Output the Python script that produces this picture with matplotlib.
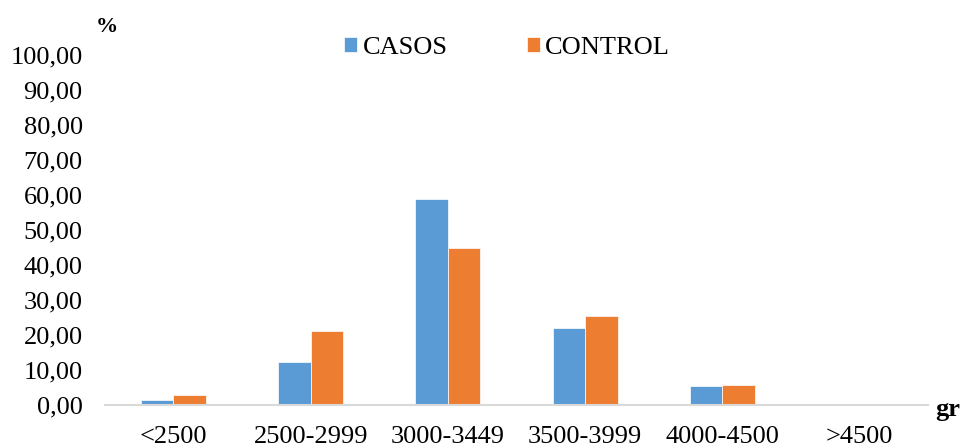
import numpy as np
import matplotlib
matplotlib.use('Agg')
import matplotlib.pyplot as plt

# weight groups and percentage of each group
categorias = ['<2500', '2500-2999', '3000-3449', '3500-3999', '4000-4500', '>4500']
casos = [1.4, 12.4, 58.9, 21.9, 5.4, 0.0]
control = [2.9, 21.2, 45.0, 25.4, 5.7, 0.0]
yticks = [0, 10, 20, 30, 40, 50, 60, 70, 80, 90, 100]

plt.rcParams['font.family'] = ['Liberation Serif', 'DejaVu Serif']

fig = plt.figure(figsize=(9.62, 4.46), dpi=100)
ax = fig.add_axes([0.109, 0.092, 0.856, 0.784])

x = np.arange(len(categorias))
w = 0.237
ax.bar(x - w/2, casos, w, color='#5B9BD5', edgecolor='white', lw=0.5, label='CASOS', zorder=2)
ax.bar(x + w/2, control, w, color='#ED7D31', edgecolor='white', lw=0.5, label='CONTROL', zorder=2)

ax.set_xlim(-0.5, len(categorias) - 0.5)
ax.set_ylim(0, 100)
ax.set_yticks(yticks)
ax.yaxis.set_major_formatter(plt.FuncFormatter(lambda v, p: ('%.2f' % v).replace('.', ',')))
ax.set_xticks(x)
ax.set_xticklabels(categorias)
ax.tick_params(axis='both', length=0, labelsize=19, colors='black')
ax.tick_params(axis='x', pad=15)
ax.tick_params(axis='y', pad=16)

# only the bottom axis line, light grey
for side in ['top', 'right', 'left']:
    ax.spines[side].set_visible(False)
ax.spines['bottom'].set_color('#d9d9d9')
ax.spines['bottom'].set_linewidth(1.5)

fig.text(0.111, 0.94, '%', fontsize=16, fontweight='bold', ha='center', va='center')
fig.text(0.985, 0.081, 'gr', fontsize=19, fontweight='bold', ha='center', va='center')

ax.legend(loc='center', bbox_to_anchor=(0.527, 0.892), bbox_transform=fig.transFigure,
          ncol=2, frameon=False, fontsize=19, handlelength=0.5, handleheight=0.5,
          handletextpad=0.2, columnspacing=3.0)

fig.savefig('out.png', dpi=100)
